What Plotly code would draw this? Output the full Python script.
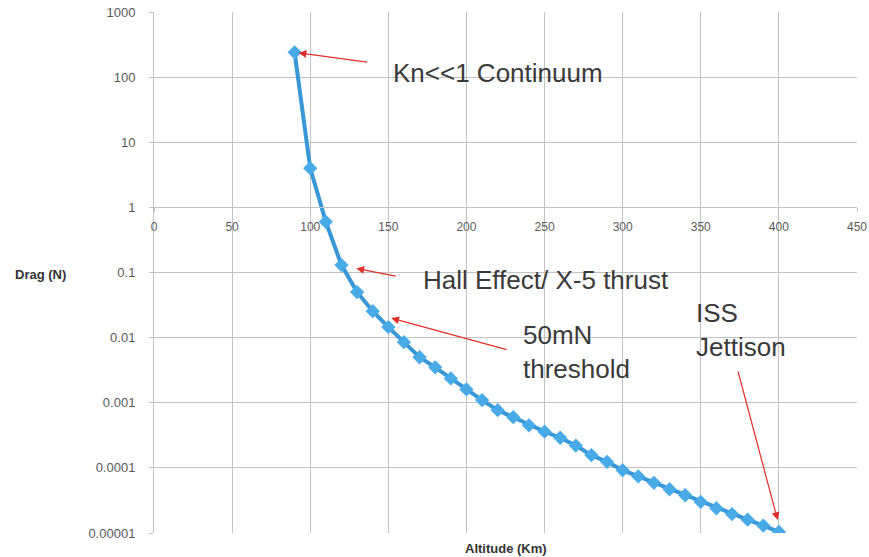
import math
import plotly.graph_objects as go

altitude_km = [90, 100, 110, 120, 130, 140, 150, 160, 170, 180, 190, 200, 210, 220, 230, 240,
               250, 260, 270, 280, 290, 300, 310, 320, 330, 340, 350, 360, 370, 380, 390, 400]
drag_n = [240, 4.0, 0.60, 0.13, 0.050, 0.0255, 0.0145, 0.0085, 0.0050, 0.0035, 0.00236, 0.0016,
          0.0011, 0.00077, 0.0006, 0.00045, 0.00036, 0.00029, 0.00022, 0.000157, 0.000124,
          0.000092, 0.000074, 0.000059, 0.000047, 0.000038, 0.000030, 0.000024, 0.0000195,
          0.000016, 0.000013, 0.0000104]
x_ticks = [0, 50, 100, 150, 200, 250, 300, 350, 400, 450]
y_ticks = [1000, 100, 10, 1, 0.1, 0.01, 0.001, 0.0001, 0.00001]
y_tick_labels = ["1000", "100", "10", "1", "0.1", "0.01", "0.001", "0.0001", "0.00001"]

FONT = "Liberation Sans, Arial, Helvetica, sans-serif"
GRID = "#c2c2c2"
RED = "#e0302a"
TXT = "#3a3a3a"
ML, MR, MT, MB = 154, 12, 12, 24
PW, PH = 869 - ML - MR, 557 - MT - MB

fig = go.Figure()
fig.add_trace(go.Scatter(
    x=altitude_km, y=drag_n, mode="lines+markers",
    line=dict(color="#3897d6", width=4),
    marker=dict(symbol="diamond", size=11, color="#48abe8", line=dict(width=0)),
    showlegend=False, hoverinfo="x+y"))

L = math.log10
annos = []
# arrows (head at target, tail offset in pixels)
arrows = [
    (altitude_km[0], L(drag_n[0]), 74, 10, 4),
    (129.5, -0.937, 41, 8, 0),
    (151.8, -1.70, 117, 32, 0),
    (399.2, -4.80, -40, -150, 0),
]
for hx, hy, ax, ay, so in arrows:
    annos.append(dict(x=hx, y=hy, xref="x", yref="y", ax=ax, ay=ay, showarrow=True,
                      arrowhead=2, arrowsize=1.3, arrowwidth=1.2, arrowcolor=RED,
                      standoff=so, text=""))
texts = [
    ("Kn<<1 Continuum", 152, 2.063),
    ("Hall Effect/ X-5 thrust", 171, -1.117),
    ("50mN<br>threshold", 235, -2.22),
    ("ISS<br>Jettison", 345.6, -1.885),
]
for t, x, y in texts:
    annos.append(dict(x=x, y=y, xref="x", yref="y", text=t, showarrow=False,
                      xanchor="left", yanchor="middle", align="left",
                      font=dict(family=FONT, size=26, color=TXT)))
annos.append(dict(x=(40 - ML) / PW, y=-1.03, xref="paper", yref="y", text="<b>Drag (N)</b>",
                  showarrow=False, xanchor="center", yanchor="middle",
                  font=dict(family=FONT, size=13, color="#333")))
annos.append(dict(x=(506 - ML) / PW, y=-15 / PH, xref="paper", yref="paper",
                  text="<b>Altitude (Km)</b>", showarrow=False, xanchor="center",
                  yanchor="middle", font=dict(family=FONT, size=13, color="#333")))
fig.update_layout(annotations=annos)

fig.update_xaxes(range=[0, 450], tickvals=x_ticks, showgrid=True, gridcolor=GRID, gridwidth=1,
                 anchor="free", position=0.625, showline=True, linecolor=GRID, linewidth=1,
                 ticks="outside", ticklen=4, tickcolor=GRID, zeroline=False, automargin=False,
                 ticklabelstandoff=4,
                 tickfont=dict(family=FONT, size=12, color="#5a5a5a"))
fig.update_yaxes(type="log", range=[-5, 3], tickvals=y_ticks, ticktext=y_tick_labels,
                 showgrid=True, gridcolor=GRID, gridwidth=1, showline=True, linecolor=GRID,
                 ticks="outside", ticklen=4, tickcolor=GRID, zeroline=False, automargin=False,
                 ticklabelstandoff=11,
                 tickfont=dict(family=FONT, size=13, color="#5a5a5a"))
fig.update_layout(width=869, height=557, margin=dict(l=ML, r=MR, t=MT, b=MB),
                  plot_bgcolor="white", paper_bgcolor="white")
fig.write_html("out.html")
